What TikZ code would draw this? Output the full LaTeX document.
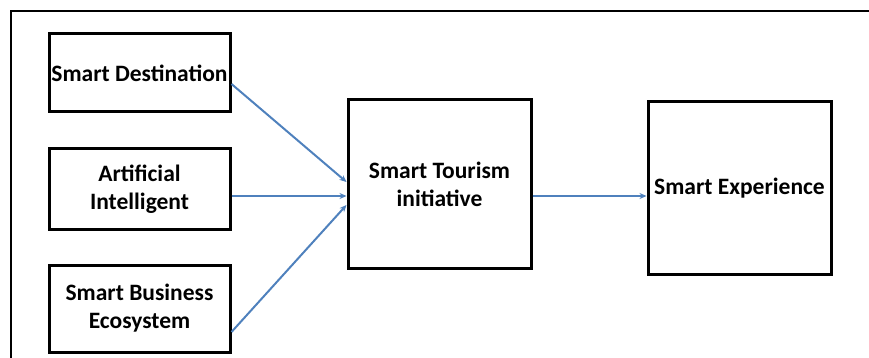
\documentclass[tikz,border=0pt]{standalone}
\usepackage{fontspec}
\setmainfont{Carlito}
\usetikzlibrary{arrows.meta,calc}
\definecolor{arrowblue}{RGB}{79,129,189}
\tikzset{
  box/.style={draw=black, line width=3pt, rectangle, inner sep=0pt, align=center,
    font=\fontsize{23.5}{28}\selectfont\bfseries},
  arr/.style={draw=arrowblue, line width=2pt, -{Stealth[length=7pt,width=6pt]}},
  frame/.style={draw=black, line width=1.8pt}
}
\begin{document}
\begin{tikzpicture}[x=1pt,y=-1pt]
\useasboundingbox (0,0) rectangle (869,358);
\draw[frame] (11,358) -- (11,11) -- (869,11);
\node[box, minimum width=181pt, minimum height=78pt] (sd) at (139.5,73) {Smart Destination};
\node[box, minimum width=181pt, minimum height=80pt] (ai) at (139.5,189) {Artificial\\Intelligent};
\node[box, minimum width=181pt, minimum height=87pt] (sbe) at (139.5,308.5) {Smart Business\\Ecosystem};
\node[box, minimum width=183pt, minimum height=168pt] (sti) at (439.5,184) {Smart Tourism\\initiative};
\node[box, minimum width=183pt, minimum height=172pt] (se) at (739.5,188) {Smart Experience};
\draw[arr] ([yshift=-11pt]sd.east) -- ([yshift=2pt]sti.west);
\draw[arr] ([yshift=-7pt]ai.east) -- ([yshift=-12pt]sti.west);
\draw[arr] ([yshift=-23.5pt]sbe.east) -- ([yshift=-21pt]sti.west);
\coordinate (a) at ([yshift=-12pt]sti.east);
\draw[arr] (a) -- (a -| se.west);
\end{tikzpicture}
\end{document}
